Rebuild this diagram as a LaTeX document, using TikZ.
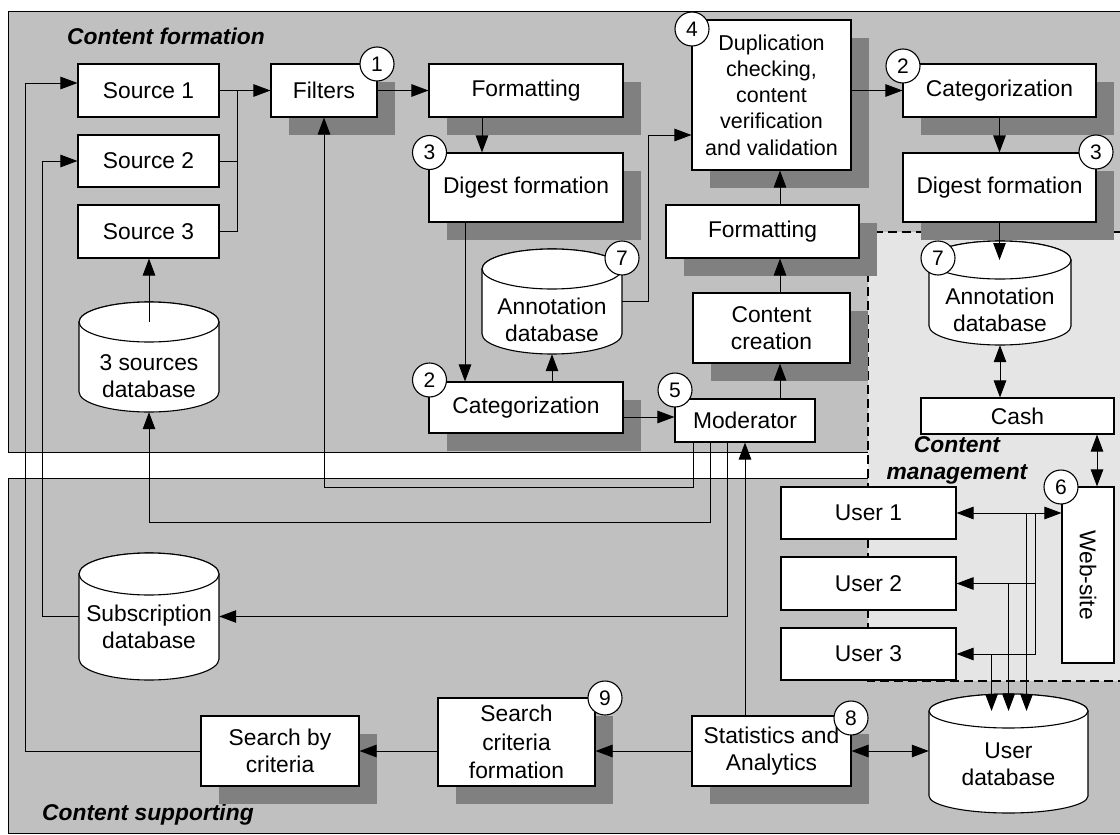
\documentclass[tikz,border=0pt]{standalone}
\usepackage{fontspec}
\setmainfont{Liberation Sans}
\usepackage{graphicx}
\usetikzlibrary{arrows.meta,shadows,calc}
\definecolor{panelgray}{RGB}{192,192,192}
\definecolor{shadowgray}{RGB}{128,128,128}
\definecolor{mgmtgray}{RGB}{229,229,229}
\newcommand\mainfs{\fontsize{22.8}{27}\selectfont}
\newcommand\dupfs{\fontsize{21.5}{26.3}\selectfont}
\newcommand\numfs{\fontsize{21}{21}\selectfont}
\newcommand\titlefs{\fontsize{22.8}{27}\selectfont\bfseries\itshape}
\tikzset{
 box/.style={draw, fill=white, line width=1.1pt, inner sep=2pt, align=center, font=\mainfs},
 shbox/.style={box, drop shadow={shadow xshift=18pt, shadow yshift=-18pt, fill=shadowgray, opacity=1, draw=none}},
 num/.style={circle, draw, fill=white, line width=1.1pt, minimum size=34pt, inner sep=0pt, font=\numfs},
 conn/.style={line width=1pt},
 arr/.style={conn, -{Triangle[length=17pt,width=12.5pt]}},
 darr/.style={conn, {Triangle[length=17pt,width=12.5pt]}-{Triangle[length=17pt,width=12.5pt]}},
 title/.style={font=\titlefs, inner sep=0pt},
 dbline/.style={draw=black, fill=white, line width=1.1pt},
}
\newcommand\dbcyl[8]{%
 \pgfmathsetmacro\dbcx{(#2+#3)/2}%
 \pgfmathsetmacro\dbrx{(#3-#2)/2}%
 \pgfmathsetmacro\dbya{#4+#6}%
 \pgfmathsetmacro\dbyb{#5-#6}%
 \pgfmathsetmacro\dbcy{(#4+#5)/2}%
 \pgfmathsetmacro\dbw{#3-#2}%
 \pgfmathsetmacro\dbh{#5-#4}%
 \path[dbline] (#2,\dbya) -- (#2,\dbyb) arc[start angle=180,end angle=360,x radius=\dbrx pt,y radius=#6pt] -- (#3,\dbya) arc[start angle=0,end angle=180,x radius=\dbrx pt,y radius=#6pt] -- cycle;
 \draw[dbline] (\dbcx,\dbya) ellipse[x radius=\dbrx pt,y radius=#6pt];
 \node[minimum width=\dbw pt, minimum height=\dbh pt, inner sep=0pt] (#1) at (\dbcx,\dbcy) {};
 \coordinate (#1-top) at (\dbcx,\dbya);
 \node[align=center, font=\mainfs, inner sep=0pt] (#1-txt) at (\dbcx,#7) {#8};
}
\begin{document}
\begin{tikzpicture}[x=1pt,y=-1pt]
\clip (0,0) rectangle (1120,835);
% panels
\draw[fill=panelgray, line width=1pt] (8,11) rectangle (1135,452);
\draw[fill=panelgray, line width=1pt] (8,478) rectangle (1135,833);
% content management region
\fill[mgmtgray] (868,232) rectangle (1135,681);
\draw[line width=1.6pt, dash pattern=on 9pt off 5pt] (1135,232) -- (868,232) -- (868,681) -- (1135,681);
% titles
\node[title, anchor=base west] (tform) at (67,45) {Content formation};
\node[title, anchor=base west] (tsupp) at (42,820) {Content supporting};
\node[title, align=center, anchor=north] (tmgmt) at (957,436.5) {Content\\management};
% boxes
\node[box, minimum width=141pt, minimum height=53pt] (src1) at (148.5,90.5) {Source 1};
\node[box, minimum width=141pt, minimum height=52pt] (src2) at (148.5,161) {Source 2};
\node[box, minimum width=141pt, minimum height=53pt] (src3) at (148.5,231.5) {Source 3};
\node[shbox, minimum width=106pt, minimum height=53pt] (filters) at (324,90.5) {Filters};
\node[shbox, minimum width=194pt, minimum height=53pt] (fmt1) at (526,90.5) {Formatting};
\node[shbox, minimum width=194pt, minimum height=69pt] (dig1) at (526,187.5) {Digest formation};
\node[shbox, minimum width=159pt, minimum height=150pt, font=\dupfs] (dup) at (771.5,95) {Duplication\\checking,\\content\\verification\\and validation};
\node[shbox, minimum width=193pt, minimum height=53pt] (cat1) at (999.5,90.5) {Categorization};
\node[shbox, minimum width=193pt, minimum height=69pt] (dig2) at (999.5,187.5) {Digest formation};
\node[shbox, minimum width=193pt, minimum height=53pt] (fmt2) at (762.5,231.5) {Formatting};
\node[shbox, minimum width=157pt, minimum height=70pt] (cc) at (771.5,328) {Content\\creation};
\node[shbox, minimum width=194pt, minimum height=51pt] (cat2) at (526,407.5) {Categorization};
\node[box, minimum width=140pt, minimum height=43pt] (mod) at (745,420.5) {Moderator};
\node[box, minimum width=193pt, minimum height=36pt] (cash) at (1017.5,416) {Cash};
\node[box, minimum width=52pt, minimum height=176pt] (web) at (1088,575) {\rotatebox{-90}{Web-site}};
\node[box, minimum width=175pt, minimum height=52pt] (u1) at (868.5,513) {User 1};
\node[box, minimum width=175pt, minimum height=53pt] (u2) at (868.5,583.5) {User 2};
\node[box, minimum width=175pt, minimum height=52pt] (u3) at (868.5,654) {User 3};
\node[shbox, minimum width=158pt, minimum height=70pt] (sbc) at (280,751) {Search by\\criteria};
\node[shbox, minimum width=157pt, minimum height=88pt, font=\fontsize{22.8}{28.5}\selectfont] (scf) at (516.5,742) {Search\\criteria\\formation};
\node[shbox, minimum width=159pt, minimum height=70pt] (stat) at (771.5,751) {Statistics and\\Analytics};
% databases
\dbcyl{db3}{79}{219}{302}{412}{20}{376}{3 sources\\database}
\dbcyl{subdb}{79}{219}{553}{680}{21}{627}{Subscription\\database}
\dbcyl{ann1}{482}{622}{249}{354}{20}{319.5}{Annotation\\database}
\dbcyl{ann2}{929}{1071}{241}{345}{19}{310}{Annotation\\database}
\dbcyl{udb}{929}{1088}{694}{813}{17}{764}{User\\database}
% connectors
\coordinate (jn) at ([xshift=18pt]src1.east);
\draw[arr] (src1.east) -- (filters.west);
\draw[conn] (src2.east) -| (jn);
\draw[conn] (src3.east) -| (jn);
\draw[arr] (filters.east) -- (fmt1.west);
\draw[arr] ([xshift=-44pt]fmt1.south) -- ([xshift=-44pt]dig1.north);
\draw[arr] ([xshift=-61pt]dig1.south) -- ([xshift=-61pt]cat2.north);
\draw[arr] (cat2.north -| ann1.south) -- (ann1.south);
\draw[arr] (ann1.east) -- ++(26,0) |- ([yshift=-40pt]dup.west);
\draw[arr] ([yshift=-9.5pt]cat2.east) -- ([yshift=3.5pt]mod.west);
\coordinate (vx) at ([xshift=35pt]mod.north);
\draw[arr] (vx) -- (vx |- cc.south);
\draw[arr] (vx |- cc.north) -- (vx |- fmt2.south);
\draw[arr] (vx |- fmt2.north) -- (vx |- dup.south);
\draw[arr] (dup.east |- cat1.west) -- (cat1.west);
\draw[arr] (cat1.south) -- (dig2.north);
\draw[arr] (dig2.south) -- (dig2.south |- ann2-top);
\draw[darr] (ann2.south) -- (ann2.south |- cash.north);
\coordinate (cw) at ([xshift=9pt]web.north);
\draw[darr] (cw |- cash.south) -- (cw);
\draw[darr] (u1.east) -- (web.west |- u1.east);
\coordinate (t1) at ([xshift=79pt]u1.east);
\coordinate (t2) at ([xshift=70pt]u1.east);
\coordinate (t3) at ([xshift=52pt]u2.east);
\coordinate (t4) at ([xshift=35pt]u3.east);
\draw[arr] (t1) |- (u3.east);
\draw[arr] (t1 |- u2.east) -- (u2.east);
\draw[arr] (t2) -- (t2 |- udb-top);
\draw[arr] (t3) -- (t3 |- udb-top);
\draw[arr] (t4) -- (t4 |- udb-top);
\draw[darr] (stat.east) -- (udb.west |- stat.east);
\draw[arr] (stat.west) -- (scf.east |- stat.west);
\draw[arr] (scf.west |- sbc.east) -- (sbc.east);
\coordinate (s1in) at ([yshift=7.5pt]src1.west);
\coordinate (lx1) at ([xshift=-52pt]s1in);
\draw[arr] (sbc.west) -| (lx1) -- (s1in);
\coordinate (lx2) at ([xshift=-35pt]src2.west);
\draw[arr] (subdb.west) -| (lx2) -- (src2.west);
\draw[arr] (db3-top) -- (db3-top |- src3.south);
\draw[arr] (stat.north -| mod.south) -- (mod.south);
\draw[arr] ([xshift=-52pt]mod.south) -- ++(0,45) -| (filters.south);
\draw[arr] ([xshift=-35pt]mod.south) -- ++(0,80) -| (db3.south);
\draw[arr] ([xshift=-18pt]mod.south) |- (subdb.east);
% number circles
\node[num] (n1) at (377,64) {1};
\node[num] (n3a) at (429.5,152.5) {3};
\node[num] (n4) at (692,29) {4};
\node[num] (n2a) at (903,66) {2};
\node[num] (n3b) at (1096,152) {3};
\node[num] (n7a) at (622,258) {7};
\node[num] (n7b) at (938,258) {7};
\node[num] (n2b) at (429.5,380) {2};
\node[num] (n5) at (675,390) {5};
\node[num] (n6) at (1061,487) {6};
\node[num] (n8) at (851,718) {8};
\node[num] (n9) at (605,698) {9};
\end{tikzpicture}
\end{document}
